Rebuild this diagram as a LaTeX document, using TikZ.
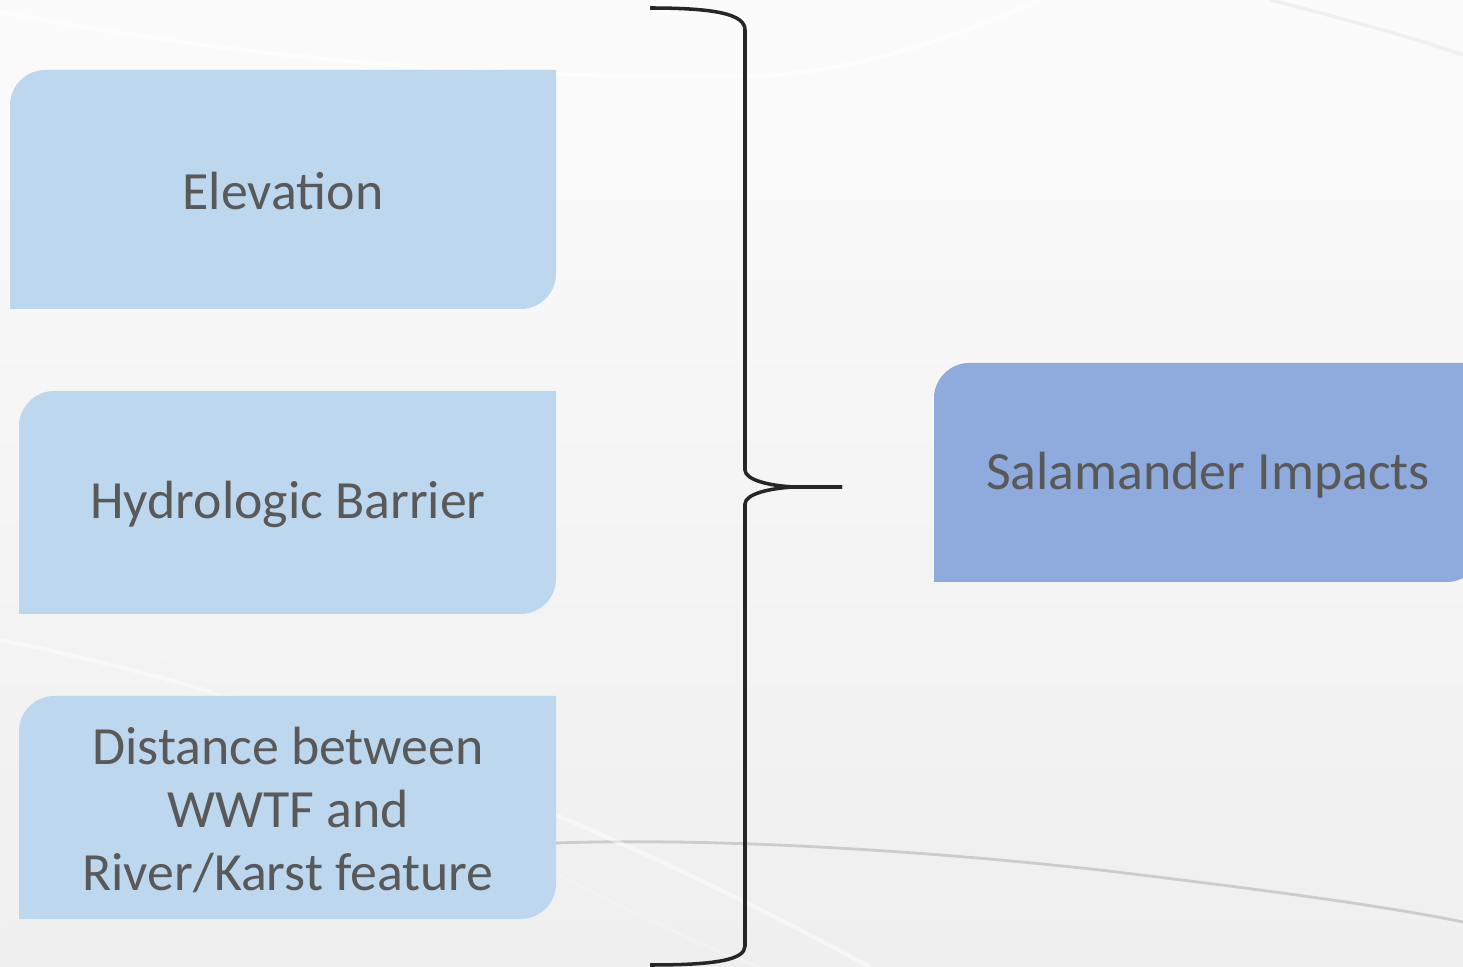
\documentclass[tikz,border=0pt]{standalone}
\usepackage{fontspec}
\setmainfont{Carlito}
\definecolor{boxlight}{HTML}{BDD7EE}
\definecolor{boxdark}{HTML}{8FAADC}
\definecolor{txt}{HTML}{595959}
\definecolor{bracecol}{HTML}{262626}
\definecolor{bgtop}{HTML}{FBFBFB}
\definecolor{bgbot}{HTML}{EFEFEF}
\newcommand\leafbox[5]{\fill[#5] (#1,#4) -- (#1,#2+35) .. controls (#1,#2+16) and (#1+16,#2) .. (#1+35,#2) -- (#3,#2) -- (#3,#4-35) .. controls (#3,#4-16) and (#3-16,#4) .. (#3-35,#4) -- cycle;}
\begin{document}
\begin{tikzpicture}[x=0.01cm,y=-0.01cm,
  lbl/.style={text=txt, font=\fontsize{15.3}{18}\selectfont, align=center, inner sep=0pt},
  bracepath/.style={draw=bracecol, line width=1pt},
  faint/.style={draw=white, line width=1.2pt, opacity=0.6},
  faintgray/.style={draw=black!20, line width=0.8pt}]
\shade[top color=bgtop, bottom color=bgbot] (0,0) rectangle (1463,967);
\useasboundingbox (0,0) rectangle (1463,967);
% faint background sweeps
\draw[faint] (0,12) .. controls (250,60) and (500,80) .. (760,76) .. controls (850,72) and (950,40) .. (1040,0);
\draw[draw=black!6, line width=1pt] (1270,0) .. controls (1350,20) and (1420,40) .. (1463,55);
\draw[faintgray] (556,843) .. controls (700,838) and (900,848) .. (1100,870) .. controls (1250,888) and (1380,905) .. (1463,922);
\draw[faint, opacity=0.45] (0,640) .. controls (300,700) and (600,820) .. (870,967);
\draw[draw=black!5, line width=0.8pt] (140,650) .. controls (400,790) and (650,930) .. (760,967);
\draw[draw=black!6, line width=0.8pt] (0,928) .. controls (200,900) and (400,880) .. (556,870);
% boxes
\leafbox{10}{70}{556}{309}{boxlight}
\leafbox{19}{391}{556}{614}{boxlight}
\leafbox{19}{696}{556}{919}{boxlight}
\leafbox{934}{363}{1482}{582}{boxdark}
% labels
\node[lbl] (elev) at (283,191) {Elevation};
\node[lbl] (hydro) at (288,504) {Hydrologic Barrier};
\node[lbl] (dist) at (288,810) {Distance between\\WWTF and\\River/Karst feature};
\node[lbl] (sal) at (1208,475) {Salamander Impacts};
% brace
\coordinate (btop) at (650,8);
\coordinate (bbot) at (650,965);
\coordinate (tip) at (842,487);
\draw[bracepath] (btop) .. controls (715,8) and (745,14) .. (745,30) -- (745,470) .. controls (745,480) and (770,486) .. (795,487) -- (tip);
\draw[bracepath] (tip) -- (795,487) .. controls (770,488) and (745,494) .. (745,504) -- (745,946) .. controls (745,960) and (715,965) .. (bbot);
\end{tikzpicture}
\end{document}
